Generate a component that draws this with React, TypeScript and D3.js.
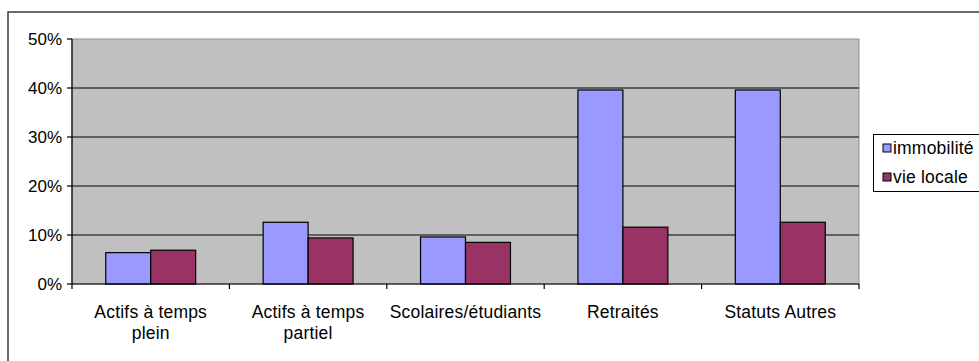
import React from "react";
import * as d3 from "d3";

const categories = ["Actifs à temps plein", "Actifs à temps partiel", "Scolaires/étudiants", "Retraités", "Statuts Autres"];
const categoryLines = [["Actifs à temps", "plein"], ["Actifs à temps", "partiel"], ["Scolaires/étudiants"], ["Retraités"], ["Statuts Autres"]];
const seriesNames = ["immobilité", "vie locale"];
const immobilite = [0.064, 0.126, 0.096, 0.396, 0.396];
const vieLocale = [0.069, 0.094, 0.085, 0.116, 0.126];
const yTicks = [0, 0.1, 0.2, 0.3, 0.4, 0.5];
const seriesColors = ["#9999FF", "#993366"];

const W = 979;
const H = 361;
const plot = { left: 72, right: 859, top: 39, bottom: 284 };
const FONT = "'Liberation Sans', Arial, sans-serif";

export default function App() {
  const x = d3.scaleBand<string>().domain(categories).range([plot.left, plot.right]).padding(0);
  const x1 = d3.scaleBand<string>().domain(seriesNames).range([0, x.bandwidth()]).paddingInner(0).paddingOuter(0.75);
  const y = d3.scaleLinear().domain([0, 0.5]).range([plot.bottom, plot.top]);
  const values = [immobilite, vieLocale];
  const fmt = d3.format(".0%");

  return (
    <svg width={W} height={H} style={{ position: "absolute", left: 0, top: 0, background: "#fff" }} fontFamily={FONT}>
      <rect x={0} y={0} width={W} height={H} fill="#fff" />
      {/* outer chart border */}
      <rect x={8} y={12} width={W + 20} height={H + 20} fill="none" stroke="#3a3a3a" strokeWidth={1.5} />
      {/* plot area */}
      <rect x={plot.left} y={plot.top} width={plot.right - plot.left} height={plot.bottom - plot.top} fill="#C0C0C0" stroke="#909090" strokeWidth={1} />
      {/* gridlines */}
      {yTicks.filter((t) => t > 0 && t < 0.5).map((t) => (
        <line key={t} x1={plot.left} x2={plot.right} y1={y(t)} y2={y(t)} stroke="#000" strokeWidth={1.2} />
      ))}
      {/* bars */}
      {categories.map((c, i) => (
        <g key={c} transform={`translate(${x(c)},0)`}>
          {seriesNames.map((s, j) => (
            <rect
              key={s}
              x={x1(s)}
              y={y(values[j][i])}
              width={x1.bandwidth()}
              height={y(0) - y(values[j][i])}
              fill={seriesColors[j]}
              stroke="#000"
              strokeWidth={1.2}
            />
          ))}
        </g>
      ))}
      {/* y axis */}
      <line x1={plot.left} x2={plot.left} y1={plot.top} y2={plot.bottom} stroke="#000" strokeWidth={1.2} />
      {yTicks.map((t) => (
        <g key={t}>
          <line x1={plot.left - 5} x2={plot.left} y1={y(t)} y2={y(t)} stroke="#000" strokeWidth={1.2} />
          <text x={plot.left - 10} y={y(t)} dy="0.36em" textAnchor="end" fontSize={17} letterSpacing={0} fill="#000">
            {fmt(t)}
          </text>
        </g>
      ))}
      {/* x axis */}
      <line x1={plot.left} x2={plot.right} y1={plot.bottom} y2={plot.bottom} stroke="#000" strokeWidth={1.2} />
      {categories.map((c, i) => (
        <g key={c}>
          <line x1={(x(c) as number) + x.bandwidth()} x2={(x(c) as number) + x.bandwidth()} y1={plot.bottom} y2={plot.bottom + 5} stroke="#000" strokeWidth={1.2} />
          {categoryLines[i].map((ln, k) => (
            <text key={k} x={(x(c) as number) + x.bandwidth() / 2} y={318 + k * 21} textAnchor="middle" fontSize={17.5} letterSpacing={0.2} fill="#000">
              {ln}
            </text>
          ))}
        </g>
      ))}
      <line x1={plot.left} x2={plot.left} y1={plot.bottom} y2={plot.bottom + 5} stroke="#000" strokeWidth={1.2} />
      {/* legend */}
      <rect x={873.5} y={134.5} width={130} height={57} fill="#fff" stroke="#000" strokeWidth={1} />
      {seriesNames.map((s, j) => (
        <g key={s} transform={`translate(883,${144 + j * 29})`}>
          <rect x={0} y={0} width={8} height={8} fill={seriesColors[j]} stroke="#000" strokeWidth={1} />
          <text x={10} y={9.5} fontSize={17.5} letterSpacing={0.2} fill="#000">{s}</text>
        </g>
      ))}
    </svg>
  );
}
